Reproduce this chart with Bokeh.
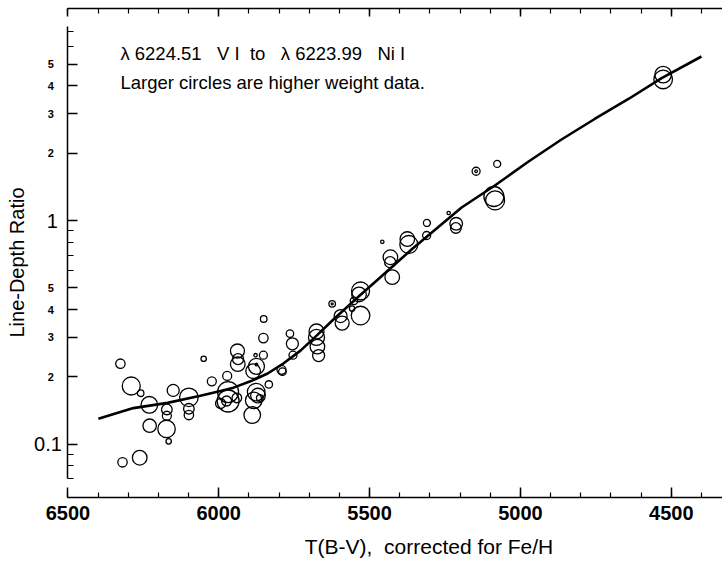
import numpy as np
from bokeh.plotting import figure
from bokeh.models import (Range1d, FixedTicker, Label, ColumnDataSource,
                          LinearAxis, LogAxis, CustomJSTickFormatter)
from bokeh.embed import file_html
from bokeh.resources import INLINE

# ---------------- data ----------------
temp = [6326, 6319, 6262, 6290, 6259, 6230, 6229, 6172, 6172, 6173, 6166, 6151, 6099, 6099, 6099, 6050, 6023,
        5972, 5969, 5969, 5974, 5940, 5938, 5936, 5937, 5994, 5878, 5875, 5875, 5886, 5852, 5851, 5852,
        5876, 5870, 5884, 5864, 5889, 5834, 5792, 5789, 5764, 5756, 5754,
        5676, 5676, 5673, 5669,
        5624, 5624, 5596, 5591, 5535, 5530, 5530, 5552, 5558, 5458, 5431, 5432, 5425, 5375, 5370, 5310, 5311,
        5238, 5213, 5214, 5147, 5147, 5077, 5088, 5084, 4527, 4527]
ratio = [0.229, 0.083, 0.087, 0.182, 0.169, 0.150, 0.121, 0.143, 0.134, 0.117, 0.103, 0.174, 0.162, 0.144, 0.135, 0.241, 0.191,
         0.202, 0.171, 0.156, 0.156, 0.161, 0.261, 0.240, 0.228, 0.152, 0.250, 0.223, 0.227, 0.212, 0.298, 0.363, 0.250,
         0.171, 0.165, 0.157, 0.161, 0.135, 0.185, 0.215, 0.211, 0.312, 0.281, 0.250,
         0.319, 0.300, 0.273, 0.249,
         0.424, 0.424, 0.374, 0.348, 0.467, 0.484, 0.376, 0.437, 0.404, 0.803, 0.685, 0.651, 0.558, 0.826, 0.781, 0.975, 0.857,
         1.08, 0.967, 0.926, 1.66, 1.66, 1.79, 1.28, 1.23, 4.49, 4.27]
# relative weight of each measurement (drawn as circle radius)
weight = [4.7, 4.7, 7.3, 9, 3.3, 8.3, 6.7, 5.3, 4.5, 8.7, 2.7, 6, 9.3, 5.3, 4.7, 2.7, 4.5,
          4.5, 10.5, 11, 5, 4.8, 7, 5.5, 7.3, 5, 1.7, 8, 1.3, 7.3, 4.7, 3.3, 4,
          8.8, 7.3, 8.3, 3.3, 8.3, 3.7, 4.5, 3.8, 3.7, 6, 4,
          7.5, 8, 7.3, 6,
          3.3, 1, 6.5, 7, 7.3, 9, 9.3, 3.7, 2.7, 1.7, 7.3, 5.5, 7.3, 7.3, 9, 3.5, 4,
          1.7, 6.3, 5.3, 4, 1.3, 3.5, 10, 9.5, 8.3, 9.3]

fit_temp = [6399, 6283, 6170, 6061, 6001, 5951, 5895, 5838, 5785, 5729, 5673, 5620, 5540, 5480,
            5361, 5195, 5086, 4973, 4864, 4754, 4642, 4532, 4400]
fit_ratio = [0.130, 0.145, 0.153, 0.1645, 0.172, 0.179, 0.191, 0.207, 0.230, 0.262, 0.308, 0.361, 0.453, 0.534,
             0.742, 1.143, 1.43, 1.835, 2.302, 2.843, 3.493, 4.33, 5.409]

x_major = [6500, 6000, 5500, 5000, 4500]
x_minor = list(range(4400, 6600, 100))
y_minor = [0.07, 0.08, 0.09, 0.6, 0.7, 0.8, 0.9, 6, 7]
small_tick_vals = [0.2, 0.3, 0.4, 0.5, 2, 3, 4, 5]
small_tick_text = ["2", "3", "4", "5", "2", "3", "4", "5"]

NB = "\u00a0"
title1 = f"\u03bb 6224.51{NB}{NB}{NB}V I{NB}{NB}to{NB}{NB}{NB}\u03bb 6223.99{NB}{NB}{NB}Ni I"
title2 = "Larger circles are higher weight data."
xlabel = f"T(B-V),{NB}{NB}corrected for Fe/H"
ylabel = "Line-Depth Ratio"

FONT = "Liberation Sans"

# where the drawn axes sit (data units)
X_AXIS_LEFT, X_AXIS_RIGHT = 6500, 4330
Y_AXIS_BOTTOM, Y_AXIS_TOP = 0.0578, 8.87
Y_BOUNDS = (0.07, 7.35)

LABEL_JS = """
    for (let i = 0; i < vals.length; i++) {
        if (Math.abs(tick - vals[i]) < 1e-9 * vals[i]) return txt[i];
    }
    return '';
"""

# ---------------- figure ----------------
# plotting area spans the whole canvas; axes are pinned at fixed locations
p = figure(width=722, height=564, output_backend="svg", toolbar_location=None,
           x_range=Range1d(6723.4, 4330.3), y_range=Range1d(0.02899, 9.626), y_axis_type="log",
           min_border_left=0, min_border_right=0, min_border_top=0, min_border_bottom=0)
p.outline_line_color = None
p.xgrid.visible = False
p.ygrid.visible = False
p.background_fill_color = "white"
p.border_fill_color = "white"

# bottom axis
xa = p.xaxis[0]
xa.fixed_location = Y_AXIS_BOTTOM
xa.ticker = FixedTicker(ticks=x_major, minor_ticks=x_minor)
xa.bounds = (X_AXIS_LEFT, X_AXIS_RIGHT)
xa.major_tick_in = 10
xa.major_tick_out = 0
xa.minor_tick_in = 5
xa.minor_tick_out = 0
xa.axis_line_width = 1.5
xa.major_tick_line_width = 1.5
xa.minor_tick_line_width = 1.2
xa.major_label_text_font = FONT
xa.major_label_text_font_style = "bold"
xa.major_label_text_font_size = "20px"
xa.major_label_text_color = "black"
xa.major_label_standoff = 9

# top axis: line + short ticks, then long ticks (no labels)
ta = LinearAxis(fixed_location=Y_AXIS_TOP, bounds=(X_AXIS_LEFT, X_AXIS_RIGHT),
                ticker=FixedTicker(ticks=[], minor_ticks=x_minor),
                major_tick_in=0, major_tick_out=0, minor_tick_in=5, minor_tick_out=0,
                axis_line_width=1.5, minor_tick_line_width=1.2)
p.add_layout(ta, "above")
ta2 = LinearAxis(fixed_location=Y_AXIS_TOP, bounds=(X_AXIS_LEFT, X_AXIS_RIGHT),
                 ticker=FixedTicker(ticks=[], minor_ticks=x_major),
                 axis_line_color=None, major_tick_in=0, major_tick_out=0,
                 minor_tick_in=8, minor_tick_out=0, minor_tick_line_width=1.5)
p.add_layout(ta2, "above")

# main left axis: axis line and minor ticks
ya = p.yaxis[0]
ya.fixed_location = X_AXIS_LEFT
ya.ticker = FixedTicker(ticks=[], minor_ticks=y_minor)
ya.bounds = Y_BOUNDS
ya.major_tick_in = 10
ya.major_tick_out = 0
ya.minor_tick_in = 6
ya.minor_tick_out = 0
ya.axis_line_width = 1.5
ya.major_tick_line_width = 1.5
ya.minor_tick_line_width = 1.2


def decade_axis(tick, text, standoff):
    return LogAxis(fixed_location=X_AXIS_LEFT,
                   ticker=FixedTicker(ticks=[tick], minor_ticks=[]),
                   formatter=CustomJSTickFormatter(args=dict(vals=[tick], txt=[text]), code=LABEL_JS),
                   axis_line_color=None, minor_tick_line_color=None,
                   major_tick_in=10, major_tick_out=0, minor_tick_in=0, minor_tick_out=0,
                   major_tick_line_width=1.5,
                   major_label_standoff=standoff, major_label_text_font=FONT,
                   major_label_text_font_size="20px", major_label_text_color="black")


p.add_layout(decade_axis(1, "1", 10), "left")
p.add_layout(decade_axis(0.1, "0.1", 6), "left")

# intermediate ticks with small bold labels
ya_small = LogAxis(fixed_location=X_AXIS_LEFT,
                   ticker=FixedTicker(ticks=small_tick_vals, minor_ticks=[]),
                   formatter=CustomJSTickFormatter(args=dict(vals=small_tick_vals, txt=small_tick_text), code=LABEL_JS),
                   axis_line_color=None, minor_tick_line_color=None,
                   major_tick_in=10, major_tick_out=0, minor_tick_in=0, minor_tick_out=0,
                   major_tick_line_width=1.5,
                   major_label_standoff=14, major_label_text_font=FONT, major_label_text_font_style="bold",
                   major_label_text_font_size="11px", major_label_text_color="black")
p.add_layout(ya_small, "left")

# ---------------- data marks ----------------
src = ColumnDataSource(dict(t=temp, r=ratio, s=[2 * w for w in weight]))
p.scatter("t", "r", size="s", source=src, marker="circle", fill_color=None,
          line_color="black", line_width=1.3)
p.line(fit_temp, fit_ratio, line_color="black", line_width=2.6)

# ---------------- texts ----------------
p.add_layout(Label(x=6326, y=5.58, text=title1, text_font=FONT, text_font_size="18.5px",
                   text_baseline="middle", text_align="left", text_color="black"))
p.add_layout(Label(x=6326, y=4.14, text=title2, text_font=FONT, text_font_size="18.5px",
                   text_baseline="middle", text_align="left", text_color="black"))
# axis titles
p.add_layout(Label(x=5715, y=0.0349, text=xlabel, text_font=FONT, text_font_size="21px",
                   text_baseline="middle", text_align="left", text_color="black"))
p.add_layout(Label(x=6670, y=0.649, text=ylabel, text_font=FONT, text_font_size="20px",
                   text_baseline="alphabetic", text_align="center", angle=np.pi / 2,
                   text_color="black"))

open("out.html", "w").write(file_html(p, INLINE))
